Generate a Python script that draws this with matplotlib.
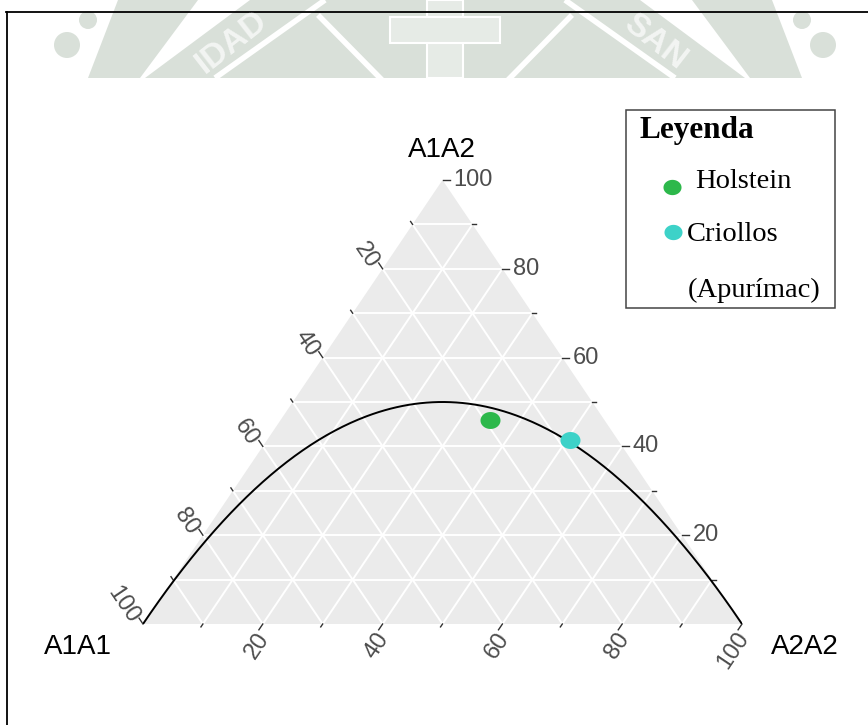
import numpy as np
import matplotlib
matplotlib.use("Agg")
import matplotlib.pyplot as plt
from matplotlib.patches import Polygon, Rectangle, Circle
from matplotlib.path import Path

# genotype frequencies (%) per breed: A1A1, A1A2, A2A2
breeds = ["Holstein", "Criollos"]
a1a1 = [19.0, 8.0]
a1a2 = [46.0, 41.5]
a2a2 = [35.0, 50.5]
colors = ["#2db84b", "#3dd2c8"]

grid_vals = [10, 20, 30, 40, 50, 60, 70, 80, 90]
tick_vals = [10, 20, 30, 40, 50, 60, 70, 80, 90, 100]
label_vals = [20, 40, 60, 80, 100]

legend_title = "Leyenda"
legend_rows = ["Holstein", "Criollos", "(Apurímac)"]

FW, FH = 868, 725
# triangle corners in pixels: bottom-left, bottom-right, top
X0, X1, YB, YT = 143, 742, 624, 180
W_PX, H_PX = X1 - X0, YB - YT


def tern(t, l, r):
    # t = A1A1, l = A1A2, r = A2A2 (percent) -> cartesian in unit triangle
    t, l, r = np.asarray(t, float), np.asarray(l, float), np.asarray(r, float)
    s = t + l + r
    return (r + l / 2) / s, l / s


def px(dx, dy):
    # pixel offset (screen, y down) -> data offset
    return dx / W_PX, -dy / H_PX


fig = plt.figure(figsize=(FW / 100, FH / 100), dpi=100)

# overlay axes in pixel coordinates for frame, watermark and legend
ov = fig.add_axes([0, 0, 1, 1])
ov.set_xlim(0, FW)
ov.set_ylim(FH, 0)
ov.axis("off")

# faint watermark band at the top
wm = "#d9e0d9"
clip = Rectangle((0, 0), FW, 78, transform=ov.transData, visible=False)
ov.add_patch(clip)
wm_shapes = [
    Polygon([(145, 78), (745, 78), (640, 0), (250, 0)]),
    Polygon([(118, 0), (198, 0), (140, 78), (88, 78)]),
    Polygon([(772, 0), (692, 0), (750, 78), (802, 78)]),
    Circle((67, 45), 13), Circle((88, 20), 9),
    Circle((823, 45), 13), Circle((802, 20), 9),
]
for s in wm_shapes:
    s.set_facecolor(wm)
    s.set_edgecolor("none")
    ov.add_patch(s)
    s.set_clip_path(clip)
for seg in [[(215, 78), (325, 0)], [(675, 78), (565, 0)],
            [(318, 15), (382, 80)], [(572, 15), (508, 80)]]:
    ln, = ov.plot(*zip(*seg), color="white", lw=4, solid_capstyle="butt")
    ln.set_clip_path(clip)
cross = [Rectangle((427, 0), 36, 78), Rectangle((390, 17), 110, 26)]
for c in cross:
    c.set_facecolor("#e6ebe6")
    c.set_edgecolor("white")
    c.set_linewidth(1.5)
    ov.add_patch(c)
    c.set_clip_path(clip)
for txt, x, rot in [("IDAD", 232, 38), ("SAN", 655, -38)]:
    t = ov.text(x, 42, txt, rotation=rot, ha="center", va="center",
                fontsize=24, fontweight="bold", color="#f3f5f3",
                family="Liberation Sans")
    t.set_clip_path(clip)

# document frame
ov.plot([6, FW], [12, 12], color="black", lw=1.3)
ov.plot([7, 7], [12, FH], color="black", lw=1.3)

# ternary axes
ax = fig.add_axes([X0 / FW, 1 - YB / FH, W_PX / FW, H_PX / FH])
ax.set_xlim(0, 1)
ax.set_ylim(0, 1)
ax.axis("off")

tri = np.array([tern(100, 0, 0), tern(0, 0, 100), tern(0, 100, 0)])
ax.add_patch(Polygon(tri, closed=True, facecolor="#ebebeb", edgecolor="none",
                     zorder=0))

for v in grid_vals:
    kw = dict(color="white", lw=1.4, zorder=1)
    ax.plot(*tern([100 - v, 0], [v, v], [0, 100 - v]), **kw)  # A1A2 = v
    ax.plot(*tern([100 - v, 0], [0, 100 - v], [v, v]), **kw)  # A2A2 = v
    ax.plot(*tern([v, v], [0, 100 - v], [100 - v, 0]), **kw)  # A1A1 = v

tick_c = "#333333"
lab_c = "#4d4d4d"
lab_font = dict(fontsize=17, color=lab_c, family="Liberation Sans")
d_l = (-0.559, -0.829)   # A1A1 ticks: up-left
d_r = (1.0, 0.0)         # A1A2 ticks: right
d_b = (-0.559, 0.829)    # A2A2 ticks: down-left
for v in tick_vals:
    L = 7 if v in label_vals else 3.5
    # A1A1 (left edge)
    x, y = tern(v, 100 - v, 0)
    dx, dy = px(L * d_l[0], L * d_l[1])
    ax.plot([x, x + dx], [y, y + dy], color=tick_c, lw=1, clip_on=False)
    # A1A2 (right edge)
    x, y = tern(0, v, 100 - v)
    dx, dy = px(L * d_r[0], L * d_r[1])
    ax.plot([x, x + dx], [y, y + dy], color=tick_c, lw=1, clip_on=False)
    # A2A2 (bottom edge)
    x, y = tern(100 - v, 0, v)
    dx, dy = px(L * d_b[0], L * d_b[1])
    ax.plot([x, x + dx], [y, y + dy], color=tick_c, lw=1, clip_on=False)

for v in label_vals:
    ax.annotate(str(v), tern(v, 100 - v, 0), xytext=(-6.5, 2),
                textcoords="offset points", ha="right", va="center",
                rotation=-56, rotation_mode="anchor", **lab_font)
    ax.annotate(str(v), tern(0, v, 100 - v), xytext=(7.5, 0),
                textcoords="offset points", ha="left", va="center", **lab_font)
    ax.annotate(str(v), tern(100 - v, 0, v), xytext=(1.5, -7.5),
                textcoords="offset points", ha="right", va="center",
                rotation=56, rotation_mode="anchor", **lab_font)

# Hardy-Weinberg equilibrium curve
p = np.linspace(0, 1, 301)
ax.plot(*tern(100 * p ** 2, 200 * p * (1 - p), 100 * (1 - p) ** 2),
        color="black", lw=1.4, zorder=3)

# elliptical marker (figure is stretched horizontally)
th = np.linspace(0, 2 * np.pi, 60)
ell = Path(np.column_stack([1.18 * np.cos(th), np.sin(th)]))

for name, t, l, r, c in zip(breeds, a1a1, a1a2, a2a2, colors):
    ax.plot(*tern(t, l, r), marker=ell, ms=14.4, color=c, mew=0, ls="none",
            zorder=4, clip_on=False, label=name)

# axis titles
title_font = dict(fontsize=20, color="black", family="Liberation Sans",
                  ha="center", va="center")
ov.text(442, 150, "A1A2", **title_font)
ov.text(78, 647, "A1A1", **title_font)
ov.text(805, 647, "A2A2", **title_font)

# legend box
ov.add_patch(Rectangle((626, 110), 209, 198, facecolor="white",
                       edgecolor="#444444", lw=1.1))
ov.text(640, 138, legend_title, fontsize=22.5, fontweight="bold",
        family="Liberation Serif", ha="left", va="baseline")
leg_font = dict(fontsize=20.5, family="Liberation Serif", ha="left",
                va="baseline")
ov.plot(672, 187, marker=ell, ms=13, color=colors[0], mew=0)
ov.plot(673, 232, marker=ell, ms=13, color=colors[1], mew=0)
ov.text(695, 188, legend_rows[0], **leg_font)
ov.text(687, 241, legend_rows[1], **leg_font)
ov.text(688, 297, legend_rows[2], **leg_font)

fig.savefig("out.png", dpi=100)
